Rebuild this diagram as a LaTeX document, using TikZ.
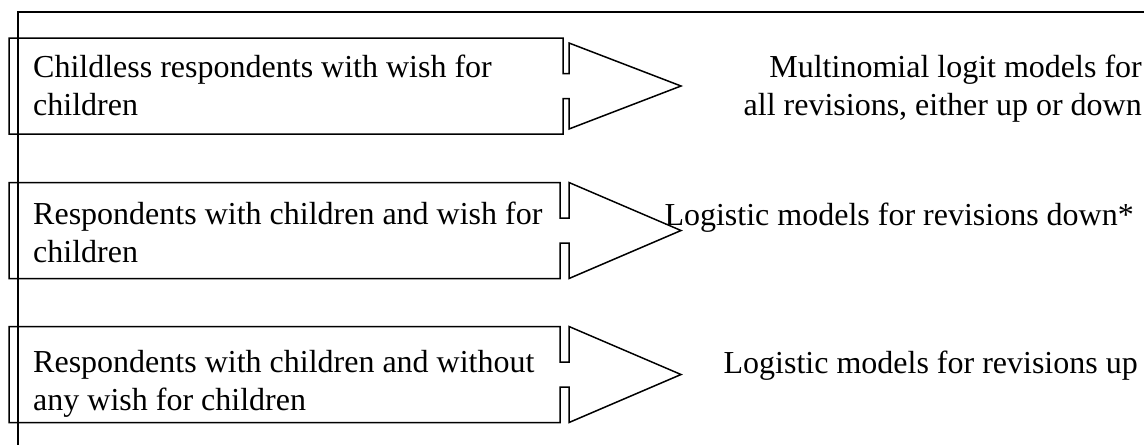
\documentclass[tikz,border=0pt]{standalone}
\usepackage{fontspec}
\setmainfont{Liberation Serif}
\usetikzlibrary{calc}

\tikzset{
	boxline/.style={draw=black, line width=1.5pt, line join=miter},
	frameline/.style={draw=black, line width=2pt},
	lefttext/.style={anchor=base west, align=left, inner sep=0pt, font=\fontsize{32}{37.5}\selectfont},
	righttext/.style={anchor=base east, align=right, inner sep=0pt, font=\fontsize{32}{37.5}\selectfont}
}

\begin{document}
\begin{tikzpicture}[x=1pt,y=-1pt]
	\useasboundingbox (0,0) rectangle (1144,445);
	% outer frame
	\coordinate (ftr) at (1144,12);
	\coordinate (ftl) at (18,12);
	\coordinate (fbl) at (18,445);
	\draw[frameline] (ftr) -- (ftl) -- (fbl);
	% boxes with block arrows
	\foreach \cy/\ti/\rx in {86/5/563, 230.5/0/560, 374.5/0/560}
	\draw[boxline] (9,\cy-48) -- (\rx,\cy-48) -- (\rx,\cy-12.5) -- (569,\cy-12.5)
		-- (569,\cy-48+\ti) -- (681,\cy) -- (569,\cy+48-\ti) -- (569,\cy+12.5)
		-- (\rx,\cy+12.5) -- (\rx,\cy+48) -- (9,\cy+48) -- cycle;
	% groups (anchored at the last baseline)
	\node[lefttext] (grpa) at (33,115) {Childless respondents with wish for\\children};
	\node[lefttext] (grpb) at (33,262) {Respondents with children and wish for\\children};
	\node[lefttext] (grpc) at (33,410) {Respondents with children and without\\any wish for children};
	% models
	\node[righttext] (moda) at (1142,115) {Multinomial logit models for\\all revisions, either up or down};
	\node[righttext] (modb) at (1134,225) {Logistic models for revisions down*};
	\node[righttext] (modc) at (1138,373) {Logistic models for revisions up};
\end{tikzpicture}
\end{document}
